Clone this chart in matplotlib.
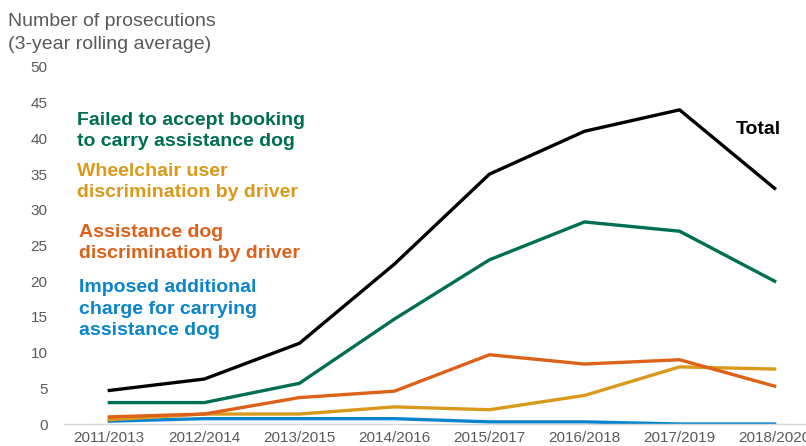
import matplotlib
matplotlib.use("Agg")
import matplotlib.pyplot as plt

plt.rcParams['font.family'] = ['Liberation Sans', 'DejaVu Sans']

periods = ["2011/2013", "2012/2014", "2013/2015", "2014/2016",
           "2015/2017", "2016/2018", "2017/2019", "2018/2020"]
total = [4.7, 6.3, 11.3, 22.4, 35.0, 41.0, 44.0, 33.0]
failed_booking = [3.0, 3.0, 5.7, 14.7, 23.0, 28.3, 27.0, 20.0]
wheelchair = [0.6, 1.4, 1.4, 2.4, 2.0, 4.0, 8.0, 7.7]
dog_discrim = [1.0, 1.4, 3.7, 4.6, 9.7, 8.4, 9.0, 5.3]
extra_charge = [0.4, 0.75, 0.75, 0.75, 0.3, 0.3, 0.0, 0.0]

green = "#006F51"
yellow = "#D99A1B"
orange = "#DD6119"
blue = "#0A84CC"
grey = "#595959"

fig = plt.figure(figsize=(8.06, 4.46), dpi=100)
ax = fig.add_axes([0.079, 0.0493, 0.921, 0.8005])

x = list(range(len(periods)))
ax.plot(x, extra_charge, color=blue, lw=2.4)
ax.plot(x, wheelchair, color=yellow, lw=2.4)
ax.plot(x, dog_discrim, color=orange, lw=2.4)
ax.plot(x, failed_booking, color=green, lw=2.4)
ax.plot(x, total, color="black", lw=2.4)

ax.set_xlim(-0.48, 7.33)
ax.set_ylim(0, 50)
ax.set_yticks(range(0, 51, 5))
ax.set_xticks(x)
ax.set_xticklabels(periods)
ax.tick_params(axis='both', length=0, labelsize=11, labelcolor=grey)
ax.tick_params(axis='y', pad=11.5)
ax.tick_params(axis='x', pad=5)
for s in ["top", "right", "left"]:
    ax.spines[s].set_visible(False)
ax.spines["bottom"].set_color("#D9D9D9")
ax.spines["bottom"].set_linewidth(1)

fig.text(8/806, 1 - 33/446, "Number of prosecutions\n(3-year rolling average)",
         ha="left", va="center", fontsize=14, color=grey, linespacing=1.42)

lab_kw = dict(fontsize=14, fontweight="bold", ha="left", va="center",
              linespacing=1.38)
fig.text(77/806, 1 - 131/446, "Failed to accept booking\nto carry assistance dog",
         color=green, **lab_kw)
fig.text(77/806, 1 - 182/446, "Wheelchair user\ndiscrimination by driver",
         color=yellow, **lab_kw)
fig.text(79/806, 1 - 243/446, "Assistance dog\ndiscrimination by driver",
         color=orange, **lab_kw)
fig.text(79/806, 1 - 309/446, "Imposed additional\ncharge for carrying\nassistance dog",
         color=blue, **lab_kw)
fig.text(736/806, 1 - 130/446, "Total", color="black", **lab_kw)

fig.savefig("out.png", dpi=100)
